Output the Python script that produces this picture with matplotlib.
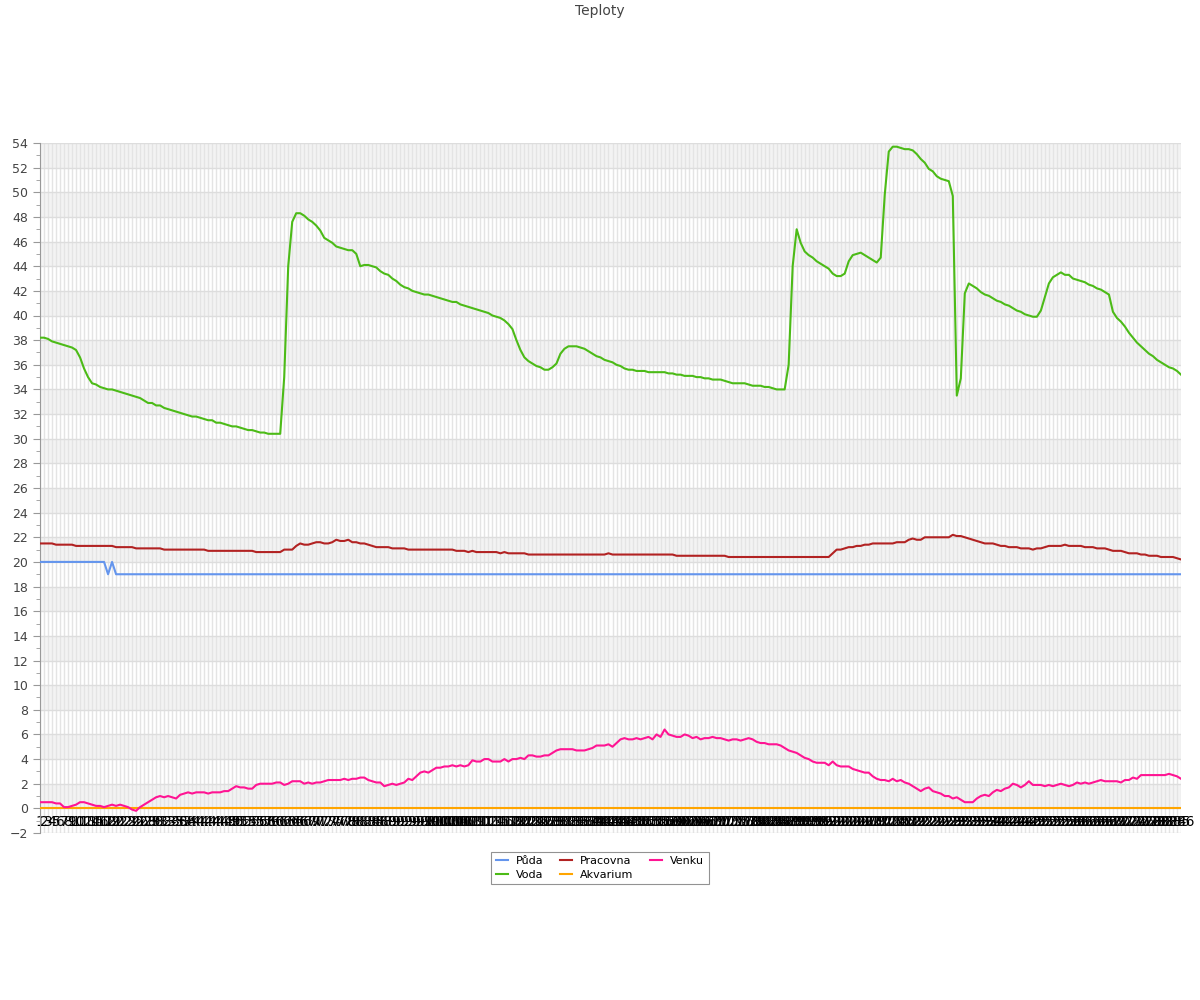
import matplotlib
matplotlib.use('Agg')
import matplotlib.pyplot as plt
import numpy as np

# Data - temperature readings (286 samples)
labels = [str(n) for n in range(1, 287)]

puda = [20.0] * 17 + [19.0, 20.0] + [19.0] * 267

akvarium = [0.0] * 286

voda = [
    38.2, 38.2, 38.1, 37.9, 37.8, 37.7, 37.6, 37.5, 37.4, 37.2,
    36.6, 35.7, 35.0, 34.5, 34.4, 34.2, 34.1, 34.0, 34.0, 33.9,
    33.8, 33.7, 33.6, 33.5, 33.4, 33.3, 33.1, 32.9, 32.9, 32.7,
    32.7, 32.5, 32.4, 32.3, 32.2, 32.1, 32.0, 31.9, 31.8, 31.8,
    31.7, 31.6, 31.5, 31.5, 31.3, 31.3, 31.2, 31.1, 31.0, 31.0,
    30.9, 30.8, 30.7, 30.7, 30.6, 30.5, 30.5, 30.4, 30.4, 30.4,
    30.4, 35.0, 44.0, 47.6, 48.3, 48.3, 48.1, 47.8, 47.6, 47.3,
    46.9, 46.3, 46.1, 45.9, 45.6, 45.5, 45.4, 45.3, 45.3, 45.0,
    44.0, 44.1, 44.1, 44.0, 43.9, 43.6, 43.4, 43.3, 43.0, 42.8,
    42.5, 42.3, 42.2, 42.0, 41.9, 41.8, 41.7, 41.7, 41.6, 41.5,
    41.4, 41.3, 41.2, 41.1, 41.1, 40.9, 40.8, 40.7, 40.6, 40.5,
    40.4, 40.3, 40.2, 40.0, 39.9, 39.8, 39.6, 39.3, 38.9, 38.0,
    37.2, 36.6, 36.3, 36.1, 35.9, 35.8, 35.6, 35.6, 35.8, 36.1,
    36.9, 37.3, 37.5, 37.5, 37.5, 37.4, 37.3, 37.1, 36.9, 36.7,
    36.6, 36.4, 36.3, 36.2, 36.0, 35.9, 35.7, 35.6, 35.6, 35.5,
    35.5, 35.5, 35.4, 35.4, 35.4, 35.4, 35.4, 35.3, 35.3, 35.2,
    35.2, 35.1, 35.1, 35.1, 35.0, 35.0, 34.9, 34.9, 34.8, 34.8,
    34.8, 34.7, 34.6, 34.5, 34.5, 34.5, 34.5, 34.4, 34.3, 34.3,
    34.3, 34.2, 34.2, 34.1, 34.0, 34.0, 34.0, 36.0, 44.0, 47.0,
    45.9, 45.2, 44.9, 44.7, 44.4, 44.2, 44.0, 43.8, 43.4, 43.2,
    43.2, 43.4, 44.4, 44.9, 45.0, 45.1, 44.9, 44.7, 44.5, 44.3,
    44.7, 49.8, 53.3, 53.7, 53.7, 53.6, 53.5, 53.5, 53.4, 53.1,
    52.7, 52.4, 51.9, 51.7, 51.3, 51.1, 51.0, 50.9, 49.7, 33.5,
    34.9, 41.8, 42.6, 42.4, 42.2, 41.9, 41.7, 41.6, 41.4, 41.2,
    41.1, 40.9, 40.8, 40.6, 40.4, 40.3, 40.1, 40.0, 39.9, 39.9,
    40.4, 41.5, 42.6, 43.1, 43.3, 43.5, 43.3, 43.3, 43.0, 42.9,
    42.8, 42.7, 42.5, 42.4, 42.2, 42.1, 41.9, 41.7, 40.3, 39.8,
    39.5, 39.1, 38.6, 38.2, 37.8, 37.5, 37.2, 36.9, 36.7, 36.4,
    36.2, 36.0, 35.8, 35.7, 35.5, 35.2,
]

pracovna = [
    21.5, 21.5, 21.5, 21.5, 21.4, 21.4, 21.4, 21.4, 21.4, 21.3,
    21.3, 21.3, 21.3, 21.3, 21.3, 21.3, 21.3, 21.3, 21.3, 21.2,
    21.2, 21.2, 21.2, 21.2, 21.1, 21.1, 21.1, 21.1, 21.1, 21.1,
    21.1, 21.0, 21.0, 21.0, 21.0, 21.0, 21.0, 21.0, 21.0, 21.0,
    21.0, 21.0, 20.9, 20.9, 20.9, 20.9, 20.9, 20.9, 20.9, 20.9,
    20.9, 20.9, 20.9, 20.9, 20.8, 20.8, 20.8, 20.8, 20.8, 20.8,
    20.8, 21.0, 21.0, 21.0, 21.3, 21.5, 21.4, 21.4, 21.5, 21.6,
    21.6, 21.5, 21.5, 21.6, 21.8, 21.7, 21.7, 21.8, 21.6, 21.6,
    21.5, 21.5, 21.4, 21.3, 21.2, 21.2, 21.2, 21.2, 21.1, 21.1,
    21.1, 21.1, 21.0, 21.0, 21.0, 21.0, 21.0, 21.0, 21.0, 21.0,
    21.0, 21.0, 21.0, 21.0, 20.9, 20.9, 20.9, 20.8, 20.9, 20.8,
    20.8, 20.8, 20.8, 20.8, 20.8, 20.7, 20.8, 20.7, 20.7, 20.7,
    20.7, 20.7, 20.6, 20.6, 20.6, 20.6, 20.6, 20.6, 20.6, 20.6,
    20.6, 20.6, 20.6, 20.6, 20.6, 20.6, 20.6, 20.6, 20.6, 20.6,
    20.6, 20.6, 20.7, 20.6, 20.6, 20.6, 20.6, 20.6, 20.6, 20.6,
    20.6, 20.6, 20.6, 20.6, 20.6, 20.6, 20.6, 20.6, 20.6, 20.5,
    20.5, 20.5, 20.5, 20.5, 20.5, 20.5, 20.5, 20.5, 20.5, 20.5,
    20.5, 20.5, 20.4, 20.4, 20.4, 20.4, 20.4, 20.4, 20.4, 20.4,
    20.4, 20.4, 20.4, 20.4, 20.4, 20.4, 20.4, 20.4, 20.4, 20.4,
    20.4, 20.4, 20.4, 20.4, 20.4, 20.4, 20.4, 20.4, 20.7, 21.0,
    21.0, 21.1, 21.2, 21.2, 21.3, 21.3, 21.4, 21.4, 21.5, 21.5,
    21.5, 21.5, 21.5, 21.5, 21.6, 21.6, 21.6, 21.8, 21.9, 21.8,
    21.8, 22.0, 22.0, 22.0, 22.0, 22.0, 22.0, 22.0, 22.2, 22.1,
    22.1, 22.0, 21.9, 21.8, 21.7, 21.6, 21.5, 21.5, 21.5, 21.4,
    21.3, 21.3, 21.2, 21.2, 21.2, 21.1, 21.1, 21.1, 21.0, 21.1,
    21.1, 21.2, 21.3, 21.3, 21.3, 21.3, 21.4, 21.3, 21.3, 21.3,
    21.3, 21.2, 21.2, 21.2, 21.1, 21.1, 21.1, 21.0, 20.9, 20.9,
    20.9, 20.8, 20.7, 20.7, 20.7, 20.6, 20.6, 20.5, 20.5, 20.5,
    20.4, 20.4, 20.4, 20.4, 20.3, 20.2,
]

venku = [
    0.5, 0.5, 0.5, 0.5, 0.4, 0.4, 0.1, 0.1, 0.2, 0.3,
    0.5, 0.5, 0.4, 0.3, 0.2, 0.2, 0.1, 0.2, 0.3, 0.2,
    0.3, 0.2, 0.1, -0.1, -0.2, 0.1, 0.3, 0.5, 0.7, 0.9,
    1.0, 0.9, 1.0, 0.9, 0.8, 1.1, 1.2, 1.3, 1.2, 1.3,
    1.3, 1.3, 1.2, 1.3, 1.3, 1.3, 1.4, 1.4, 1.6, 1.8,
    1.7, 1.7, 1.6, 1.6, 1.9, 2.0, 2.0, 2.0, 2.0, 2.1,
    2.1, 1.9, 2.0, 2.2, 2.2, 2.2, 2.0, 2.1, 2.0, 2.1,
    2.1, 2.2, 2.3, 2.3, 2.3, 2.3, 2.4, 2.3, 2.4, 2.4,
    2.5, 2.5, 2.3, 2.2, 2.1, 2.1, 1.8, 1.9, 2.0, 1.9,
    2.0, 2.1, 2.4, 2.3, 2.6, 2.9, 3.0, 2.9, 3.1, 3.3,
    3.3, 3.4, 3.4, 3.5, 3.4, 3.5, 3.4, 3.5, 3.9, 3.8,
    3.8, 4.0, 4.0, 3.8, 3.8, 3.8, 4.0, 3.8, 4.0, 4.0,
    4.1, 4.0, 4.3, 4.3, 4.2, 4.2, 4.3, 4.3, 4.5, 4.7,
    4.8, 4.8, 4.8, 4.8, 4.7, 4.7, 4.7, 4.8, 4.9, 5.1,
    5.1, 5.1, 5.2, 5.0, 5.3, 5.6, 5.7, 5.6, 5.6, 5.7,
    5.6, 5.7, 5.8, 5.6, 6.0, 5.8, 6.4, 6.0, 5.9, 5.8,
    5.8, 6.0, 5.9, 5.7, 5.8, 5.6, 5.7, 5.7, 5.8, 5.7,
    5.7, 5.6, 5.5, 5.6, 5.6, 5.5, 5.6, 5.7, 5.6, 5.4,
    5.3, 5.3, 5.2, 5.2, 5.2, 5.1, 4.9, 4.7, 4.6, 4.5,
    4.3, 4.1, 4.0, 3.8, 3.7, 3.7, 3.7, 3.5, 3.8, 3.5,
    3.4, 3.4, 3.4, 3.2, 3.1, 3.0, 2.9, 2.9, 2.6, 2.4,
    2.3, 2.3, 2.2, 2.4, 2.2, 2.3, 2.1, 2.0, 1.8, 1.6,
    1.4, 1.6, 1.7, 1.4, 1.3, 1.2, 1.0, 1.0, 0.8, 0.9,
    0.7, 0.5, 0.5, 0.5, 0.8, 1.0, 1.1, 1.0, 1.3, 1.5,
    1.4, 1.6, 1.7, 2.0, 1.9, 1.7, 1.9, 2.2, 1.9, 1.9,
    1.9, 1.8, 1.9, 1.8, 1.9, 2.0, 1.9, 1.8, 1.9, 2.1,
    2.0, 2.1, 2.0, 2.1, 2.2, 2.3, 2.2, 2.2, 2.2, 2.2,
    2.1, 2.3, 2.3, 2.5, 2.4, 2.7, 2.7, 2.7, 2.7, 2.7,
    2.7, 2.7, 2.8, 2.7, 2.6, 2.4,
]

series = [
    ('Půda', puda, '#6495ED'),
    ('Voda', voda, '#4CBB17'),
    ('Pracovna', pracovna, '#B22222'),
    ('Akvarium', akvarium, '#FFA500'),
    ('Venku', venku, '#FF1493'),
]

x = np.arange(len(labels))

fig = plt.figure(figsize=(12, 10), dpi=100)
ax = fig.add_axes([40 / 1200, 0.167, 1141 / 1200, 0.69])

# alternating bands
for b in range(0, 54, 4):
    ax.axhspan(b, b + 2, color='#f3f3f3', zorder=0, lw=0)

for name, vals, col in series:
    ax.plot(x, vals, color=col, lw=1.5, label=name, zorder=3)

ax.set_xlim(0, len(labels) - 1)
ax.set_ylim(-2, 54)
ax.set_yticks(range(-2, 55, 2))
ax.set_yticks(range(-1, 54, 2), minor=True)
ax.set_xticks(x)
ax.set_xticklabels(labels, fontsize=7.5, color='#444444')

ax.grid(axis='y', color='#dddddd', lw=1, zorder=1)
ax.grid(axis='x', color='#e4e4e4', lw=1, zorder=1)
ax.set_axisbelow(True)

ax.spines['top'].set_visible(False)
ax.spines['right'].set_visible(False)
ax.spines['left'].set_color('#999999')
ax.spines['bottom'].set_position(('data', 0))
ax.spines['bottom'].set_visible(False)

ax.tick_params(axis='y', which='major', length=5, color='#999999', labelsize=9, labelcolor='#444444')
ax.tick_params(axis='y', which='minor', length=3, color='#999999')
ax.tick_params(axis='x', length=0, pad=5)

fig.text(0.5, 0.989, 'Teploty', ha='center', va='center', fontsize=10, color='#444444')

leg = ax.legend(loc='center', bbox_to_anchor=(0.5, 0.132), bbox_transform=fig.transFigure,
                ncol=3, fontsize=8, frameon=True, fancybox=False, handlelength=1.1,
                handletextpad=0.7, columnspacing=1.5, borderpad=0.4, labelspacing=0.35)
leg.get_frame().set_edgecolor('#777777')
leg.get_frame().set_linewidth(0.8)

fig.savefig('out.png', dpi=100)
